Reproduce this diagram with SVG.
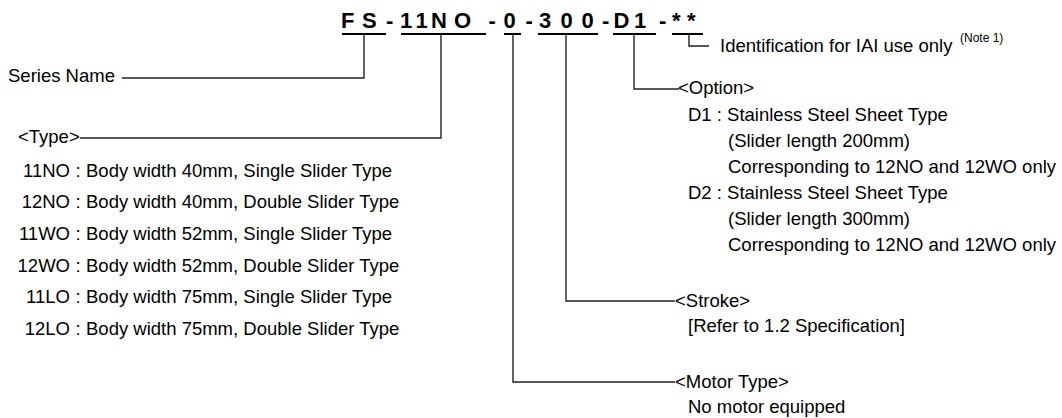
<svg xmlns="http://www.w3.org/2000/svg" width="1062" height="418" viewBox="0 0 1062 418">
<style>
text{font-family:"Liberation Sans",Arial,sans-serif;font-size:18.5px;fill:#000}
.t{font-weight:bold;font-size:22px}
.n{font-size:12px}
.c{stroke:#222;stroke-width:1.4;fill:none}
.u{stroke:#000;stroke-width:2;fill:none}
</style>
<rect width="1062" height="418" fill="#fff"/>
<g id="model">
<text class="t" x="341 362 386 400 415.5 431 454 488.5 503.5 525.5 539 560.5 581.5 602 613.5 634 659 672 687" y="28">FS-11NO-0-300-D1-**</text>
<path class="u" d="M342 34H386M401 34H486M504 34H521M538 34H598M613 34H656M672 34H703"/>
</g>
<g id="connectors">
<path class="c" d="M364 35V78H122"/>
<path class="c" d="M441 35V138H80"/>
<path class="c" d="M513 35V382H675"/>
<path class="c" d="M566 35V301H675"/>
<path class="c" d="M634 35V89H679"/>
<path class="c" d="M689 35V46H709"/>
</g>
<g id="series"><text x="8" y="82">Series Name</text></g>
<g id="ident"><text x="720" y="52">Identification for IAI use only</text><text class="n" x="960" y="42">(Note 1)</text></g>
<g id="type">
<text x="18" y="143">&lt;Type&gt;</text>
<g text-anchor="end">
<text x="70" y="177">11NO</text>
<text x="70" y="208">12NO</text>
<text x="70" y="240">11WO</text>
<text x="70" y="272">12WO</text>
<text x="70" y="303">11LO</text>
<text x="70" y="335">12LO</text>
</g>
<text x="75.5" y="177">:</text><text x="86" y="177">Body width 40mm, Single Slider Type</text>
<text x="75.5" y="208">:</text><text x="86" y="208">Body width 40mm, Double Slider Type</text>
<text x="75.5" y="240">:</text><text x="86" y="240">Body width 52mm, Single Slider Type</text>
<text x="75.5" y="272">:</text><text x="86" y="272">Body width 52mm, Double Slider Type</text>
<text x="75.5" y="303">:</text><text x="86" y="303">Body width 75mm, Single Slider Type</text>
<text x="75.5" y="335">:</text><text x="86" y="335">Body width 75mm, Double Slider Type</text>
</g>
<g id="option">
<text x="678" y="94">&lt;Option&gt;</text>
<text x="688" y="121">D1 : Stainless Steel Sheet Type</text>
<text x="728" y="147">(Slider length 200mm)</text>
<text x="728" y="173">Corresponding to 12NO and 12WO only</text>
<text x="688" y="199">D2 : Stainless Steel Sheet Type</text>
<text x="728" y="225">(Slider length 300mm)</text>
<text x="728" y="251">Corresponding to 12NO and 12WO only</text>
</g>
<g id="stroke">
<text x="675" y="307">&lt;Stroke&gt;</text>
<text x="688" y="332">[Refer to 1.2 Specification]</text>
</g>
<g id="motor">
<text x="675" y="388">&lt;Motor Type&gt;</text>
<text x="688" y="413">No motor equipped</text>
</g>
</svg>
